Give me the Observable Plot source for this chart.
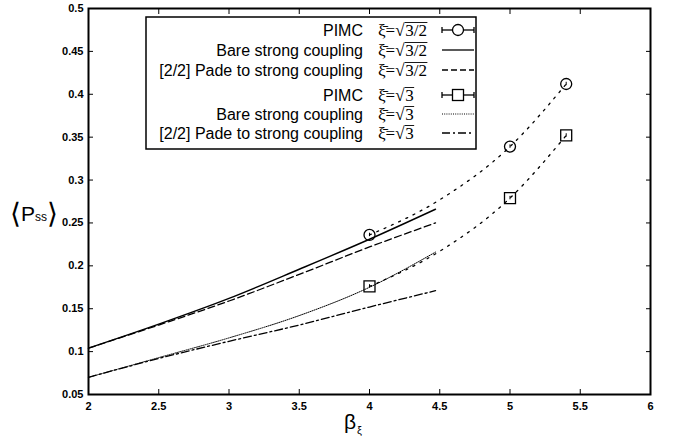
<!DOCTYPE html>
<html>
<head>
<meta charset="utf-8">
<script src="https://cdn.jsdelivr.net/npm/d3@7"></script>
<script src="https://cdn.jsdelivr.net/npm/@observablehq/plot@0.6"></script>
<style>
  body { margin: 0; background: #fff; }
  #chart svg { display: block; }
</style>
</head>
<body>
<div id="chart"></div>
<script>
// ---- tick values ----
const xTicks = [2, 2.5, 3, 3.5, 4, 4.5, 5, 5.5, 6];
const yTicks = [0.05, 0.1, 0.15, 0.2, 0.25, 0.3, 0.35, 0.4, 0.45, 0.5];

// ---- strong-coupling curves (beta_xi grid) ----
const curveBeta = [2, 2.5, 3, 3.5, 4, 4.47];
const bareA = [0.104, 0.132, 0.162, 0.196, 0.231, 0.266];   // xi = sqrt(3/2), bare
const padeA = [0.104, 0.131, 0.159, 0.190, 0.222, 0.250];   // xi = sqrt(3/2), [2/2] Pade
const bareB = [0.070, 0.093, 0.116, 0.142, 0.175, 0.216];   // xi = sqrt(3), bare
const padeB = [0.070, 0.092, 0.112, 0.131, 0.152, 0.171];   // xi = sqrt(3), [2/2] Pade

// ---- PIMC points ----
const pimcBeta = [4, 5, 5.4];
const pimcA = [0.236, 0.339, 0.412];
const pimcB = [0.176, 0.279, 0.352];
const pimcErr = [0.002, 0.002, 0.002];

// ---- dotted guide through PIMC points ----
const guideBeta = [4, 4.5, 5, 5.4];
const guideA = [0.236, 0.277, 0.339, 0.412];
const guideB = [0.176, 0.217, 0.279, 0.352];

// ---- legend ----
const legendLabels = ["PIMC", "Bare strong coupling", "[2/2] Pade to strong coupling",
                      "PIMC", "Bare strong coupling", "[2/2] Pade to strong coupling"];
const legendArgs = ["3/2", "3/2", "3/2", "3", "3", "3"];

const zip = (xs, ys) => xs.map((x, i) => ({x, y: ys[i]}));
const pA = pimcBeta.map((x, i) => ({x, y: pimcA[i], e: pimcErr[i]}));
const pB = pimcBeta.map((x, i) => ({x, y: pimcB[i], e: pimcErr[i]}));

const ink = "#000";
const tickFont = {fontSize: 11, fontWeight: "bold", fontFamily: "Liberation Sans, Arial, sans-serif"};
const fmt = d => String(d);

const chart = Plot.plot({
  width: 673,
  height: 447,
  marginLeft: 88,
  marginRight: 23,
  marginTop: 8,
  marginBottom: 53,
  x: {domain: [2, 6]},
  y: {domain: [0.05, 0.5]},
  style: {background: "#fff", color: ink},
  marks: [
    Plot.axisX(xTicks, {anchor: "bottom", tickSize: -5, tickPadding: 13, tickFormat: fmt, label: null, ...tickFont}),
    Plot.axisX(xTicks, {anchor: "top", tickSize: -5, tickFormat: () => "", label: null}),
    Plot.axisY(yTicks, {anchor: "left", tickSize: -5, tickPadding: 10, tickFormat: fmt, label: null, ...tickFont}),
    Plot.axisY(yTicks, {anchor: "right", tickSize: -5, tickFormat: () => "", label: null}),
    Plot.frame({stroke: ink, strokeWidth: 2}),
    // xi = sqrt(3/2)
    Plot.line(zip(curveBeta, bareA), {x: "x", y: "y", stroke: ink, strokeWidth: 1.4, curve: "monotone-x"}),
    Plot.line(zip(curveBeta, padeA), {x: "x", y: "y", stroke: ink, strokeWidth: 1.3, strokeDasharray: "7,3.5", curve: "monotone-x"}),
    Plot.line(zip(guideBeta, guideA), {x: "x", y: "y", stroke: ink, strokeWidth: 1.3, strokeDasharray: "2,6", curve: "monotone-x"}),
    // xi = sqrt(3)
    Plot.line(zip(curveBeta, bareB), {x: "x", y: "y", stroke: ink, strokeWidth: 1, strokeDasharray: "1,1.2", curve: "monotone-x"}),
    Plot.line(zip(curveBeta, padeB), {x: "x", y: "y", stroke: ink, strokeWidth: 1.3, strokeDasharray: "8,3,2,3", curve: "monotone-x"}),
    Plot.line(zip(guideBeta, guideB), {x: "x", y: "y", stroke: ink, strokeWidth: 1.3, strokeDasharray: "2,6", curve: "monotone-x"}),
    // PIMC error bars + markers
    Plot.ruleX(pA, {x: "x", y1: d => d.y - d.e, y2: d => d.y + d.e, stroke: ink}),
    Plot.ruleX(pB, {x: "x", y1: d => d.y - d.e, y2: d => d.y + d.e, stroke: ink}),
    Plot.dot(pA, {x: "x", y: "y", r: 5.5, stroke: ink, strokeWidth: 1.3, fill: "none"}),
    Plot.dot(pB, {x: "x", y: "y", r: 6.2, symbol: "square", stroke: ink, strokeWidth: 1.3, fill: "none"})
  ]
});

document.getElementById("chart").appendChild(chart);

// ---- legend and axis titles (drawn into the same SVG) ----
const svg = d3.select(chart);
const lg = svg.append("g").attr("text-anchor", "start");
lg.append("rect")
  .attr("x", 146).attr("y", 17).attr("width", 330).attr("height", 132)
  .attr("fill", "#fff").attr("stroke", ink).attr("stroke-width", 1.5);

const rowY = [30, 50, 70, 95, 114, 133];
const sx0 = 442, sx1 = 474, smid = (sx0 + sx1) / 2;
const styles = [null, null, "6,3", null, "1,1.2", "8,3,2,3"];
legendLabels.forEach((lab, i) => {
  const y = rowY[i];
  lg.append("text")
    .attr("x", 363).attr("y", y).attr("dy", "0.36em")
    .attr("text-anchor", "end")
    .attr("font-family", "Liberation Sans, Arial, sans-serif")
    .attr("font-size", 16)
    .attr("fill", ink)
    .text(lab);
  const t1 = lg.append("text")
    .attr("x", 378).attr("y", y).attr("dy", "0.36em")
    .attr("text-anchor", "start")
    .attr("font-family", "Liberation Serif, Times New Roman, serif")
    .attr("font-size", 17)
    .attr("fill", ink)
    .text("\u03BE\u0304=\u221A");
  const b1 = t1.node().getBBox();
  const t2 = lg.append("text")
    .attr("x", b1.x + b1.width).attr("y", y).attr("dy", "0.36em")
    .attr("text-anchor", "start")
    .attr("font-family", "Liberation Serif, Times New Roman, serif")
    .attr("font-size", 17)
    .attr("fill", ink)
    .text(legendArgs[i]);
  const b2 = t2.node().getBBox();
  lg.append("line")
    .attr("x1", b2.x - 0.5).attr("x2", b2.x + b2.width + 0.5)
    .attr("y1", y - 7.5).attr("y2", y - 7.5)
    .attr("stroke", ink).attr("stroke-width", 0.9);

  if (i === 0 || i === 3) {
    lg.append("line").attr("x1", sx0).attr("x2", sx1).attr("y1", y).attr("y2", y)
      .attr("stroke", ink).attr("stroke-width", 1.3);
    lg.append("line").attr("x1", sx0).attr("x2", sx0).attr("y1", y - 3).attr("y2", y + 3)
      .attr("stroke", ink).attr("stroke-width", 1.3);
    lg.append("line").attr("x1", sx1).attr("x2", sx1).attr("y1", y - 3).attr("y2", y + 3)
      .attr("stroke", ink).attr("stroke-width", 1.3);
    if (i === 0) {
      lg.append("circle").attr("cx", smid).attr("cy", y).attr("r", 5.5)
        .attr("fill", "#fff").attr("stroke", ink).attr("stroke-width", 1.3);
    } else {
      lg.append("rect").attr("x", smid - 5.5).attr("y", y - 5.5).attr("width", 11).attr("height", 11)
        .attr("fill", "#fff").attr("stroke", ink).attr("stroke-width", 1.3);
    }
  } else {
    lg.append("line").attr("x1", sx0).attr("x2", sx1).attr("y1", y).attr("y2", y)
      .attr("stroke", ink).attr("stroke-width", i === 4 ? 1 : 1.3)
      .attr("stroke-dasharray", styles[i]);
  }
});

// y axis title <P_ss>
const yl = svg.append("text")
  .attr("x", 34).attr("y", 213)
  .attr("text-anchor", "middle")
  .attr("dominant-baseline", "central")
  .attr("font-family", "Liberation Sans, Arial, sans-serif")
  .attr("fill", ink);
yl.append("tspan").attr("font-size", 28).attr("font-family", "DejaVu Sans").attr("font-weight", 200).text("\u27E8");
yl.append("tspan").attr("font-size", 21).text("P");
yl.append("tspan").attr("font-size", 12).attr("dy", 4).text("ss");
yl.append("tspan").attr("font-size", 28).attr("dy", -4).attr("font-family", "DejaVu Sans").attr("font-weight", 200).text("\u27E9");

// x axis title beta_xi
const xl = svg.append("text")
  .attr("x", 344).attr("y", 429)
  .attr("text-anchor", "start")
  .attr("font-family", "Liberation Sans, Arial, sans-serif")
  .attr("fill", ink);
xl.append("tspan").attr("font-size", 21).text("\u03B2");
xl.append("tspan").attr("font-size", 11).attr("dy", 5).attr("dx", 1).text("\u03BE");
</script>
</body>
</html>
